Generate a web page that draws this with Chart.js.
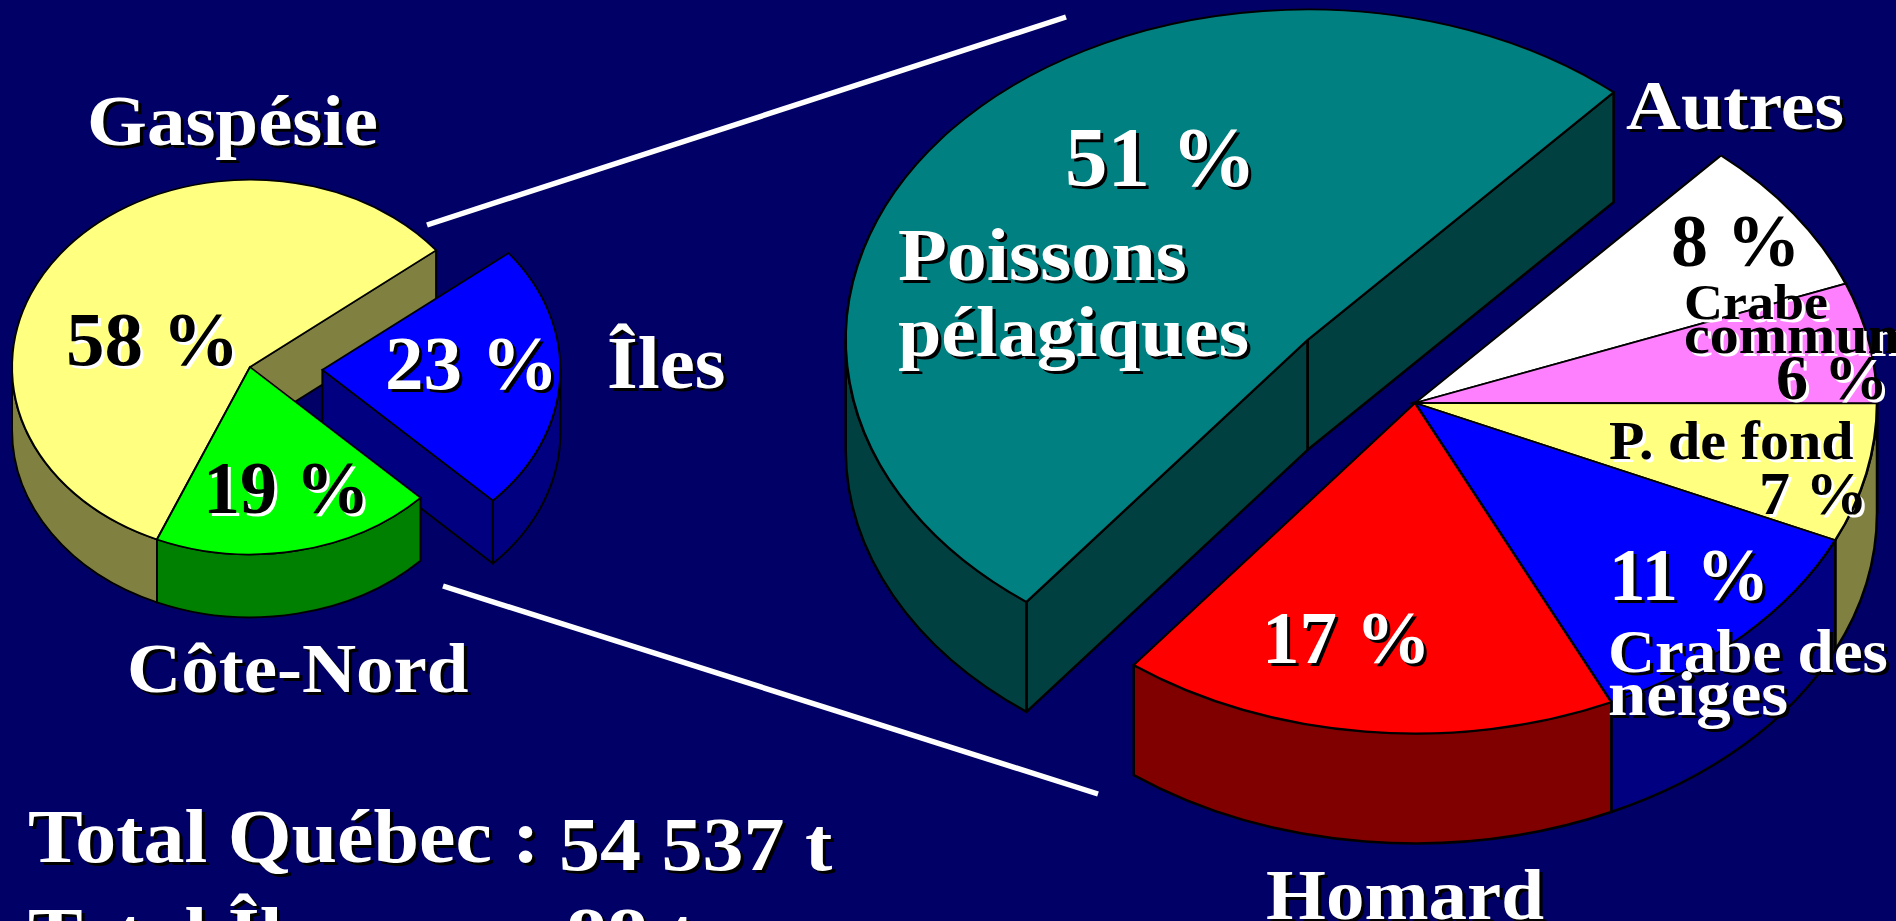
<!DOCTYPE html>
<html><head><meta charset="utf-8">
<script src="https://cdn.jsdelivr.net/npm/chart.js@4"></script>
<style>
html,body{margin:0;padding:0;width:1896px;height:921px;overflow:hidden;background:#000066}
canvas{position:absolute}
svg{position:absolute;left:0;top:0}
.t{position:absolute;font-family:"Liberation Serif",serif;font-weight:bold;line-height:1;white-space:nowrap;transform-origin:left top}
.w{color:#fff;text-shadow:3px 3px 0 #000}
.k{color:#000;text-shadow:3px 3px 0 #fff}
</style></head><body>
<canvas id="left" width="700" height="700" style="left:-100px;top:17px"></canvas>
<canvas id="right" width="1240" height="1240" style="left:795px;top:-217px"></canvas>
<svg width="1896" height="921"><line x1="427" y1="225" x2="1066" y2="17" stroke="#fff" stroke-width="5.5"/><line x1="443" y1="586" x2="1098" y2="794" stroke="#fff" stroke-width="5.5"/></svg>
<script>
const regionNames = ["Gaspésie", "Îles", "Côte-Nord"];
const regionValues = [57.9, 23.0, 19.1];
const regionColors = ["#FFFF80", "#0000FF", "#00FF00"];
const regionSides = ["#808040", "#000080", "#008000"];
const regionExplode = [0, 72.5, 0];

const speciesNames = ["Poissons pélagiques", "Autres", "Crabe commun", "P. de fond", "Crabe des neiges", "Homard"];
const speciesValues = [51.1, 7.6, 5.9, 6.8, 11.2, 17.4];
const speciesColors = ["#008080", "#FFFFFF", "#FF80FF", "#FFFF80", "#0000FF", "#FF0000"];
const speciesSides = ["#004040", "#808080", "#804080", "#808040", "#000080", "#800000"];
const speciesExplode = [139, 0, 0, 0, 0, 0];

// text, left, baseline, font size, style, horizontal widening
const W = 0.93;
const texts = [
 ["Gaspésie",87,145,77,"w",W],["Îles",607,389,79,"w",W],["Côte-Nord",127,692,75,"w",W],
 ["58 %",66,365,77,"k",1],["23 %",385,389,77,"w",1],["19 %",203,513,74,"k",1],
 ["Autres",1626,129,76,"w",W],["51 %",1065,186,85,"w",1],["Poissons",898,280,80,"w",W],["pélagiques",898,357,78,"w",W],
 ["8 %",1671,266,74,"k",1],["Crabe",1684,319,54,"k",W],["commun",1684,354,58,"k",W],["6 %",1776,400,64,"k",1],
 ["P. de fond",1609,460,58,"k",W],["7 %",1759,514,62,"k",1],["11 %",1609,600,73,"w",1],
 ["Crabe des",1608,673,65,"w",W],["neiges",1608,716,69,"w",W],["17 %",1262,663,75,"w",1],["Homard",1266,919,77,"w",W],
 ["Total Québec :",28,862,82,"w",W],["54 537 t",559,870,82,"w",W],["Total Îles",28,960,82,"w",W],[":",535,960,82,"w",W],["88 t",566,960,82,"w",W]
];
for (const [s,x,b,size,cls,f] of texts){
  const d=document.createElement('div');d.className='t '+cls;d.textContent=s;
  const fs=size*f;
  d.style.left=x+'px';d.style.fontSize=fs+'px';d.style.top=(b-fs*0.8375)+'px';
  d.style.transform='scaleX('+(1/f)+')';
  document.body.appendChild(d);
}
const extrude = {
  id:'extrude',
  beforeDatasetsDraw(chart,args,o){
    const ctx=chart.ctx,k=o.k,depth=o.depth;
    const arcs=chart.getDatasetMeta(0).data;
    const cy0=(chart.chartArea.top+chart.chartArea.bottom)/2;
    ctx.save();
    ctx.lineWidth=o.line;ctx.strokeStyle='#000';ctx.lineJoin='round';
    arcs.forEach((a,i)=>{
      const {x,startAngle:s,endAngle:e,outerRadius:r}=a.getProps(['x','startAngle','endAngle','outerRadius'],true);
      const mid=(s+e)/2,dist=o.explode[i];
      const cx=x+Math.cos(mid)*dist,cy=cy0+Math.sin(mid)*dist*k;
      ctx.fillStyle=o.sides[i];
      const radial=ang=>{
        const px=cx+r*Math.cos(ang),py=cy+r*k*Math.sin(ang);
        ctx.beginPath();ctx.moveTo(cx,cy);ctx.lineTo(px,py);ctx.lineTo(px,py+depth);ctx.lineTo(cx,cy+depth);ctx.closePath();ctx.fill();ctx.stroke();
      };
      if(Math.cos(s)<0)radial(s);
      if(Math.cos(e)>0)radial(e);
      for(let n=-1;n<3;n++){
        const lo=Math.max(s,2*Math.PI*n),hi=Math.min(e,2*Math.PI*n+Math.PI);
        if(hi<=lo)continue;
        ctx.beginPath();
        ctx.ellipse(cx,cy,r,r*k,0,lo,hi);
        ctx.lineTo(cx+r*Math.cos(hi),cy+r*k*Math.sin(hi)+depth);
        ctx.ellipse(cx,cy+depth,r,r*k,0,hi,lo,true);
        ctx.closePath();ctx.fill();ctx.stroke();
      }
    });
    ctx.restore();
    arcs.forEach((a,i)=>{
      const {startAngle:s,endAngle:e}=a.getProps(['startAngle','endAngle'],true);
      const mid=(s+e)/2,dist=o.explode[i];
      ctx.save();
      ctx.translate(0,cy0);ctx.scale(1,k);ctx.translate(0,-cy0);
      ctx.translate(Math.cos(mid)*dist,Math.sin(mid)*dist);
      a.draw(ctx);
      ctx.restore();
    });
    return false;
  }
};
function pie(id,names,values,colors,sides,explode,rotation,radius,k,depth,line){
  new Chart(document.getElementById(id),{
    type:'pie',
    data:{labels:names,datasets:[{data:values,backgroundColor:colors,borderColor:'#000',borderWidth:line,hoverOffset:0,radius:radius,borderJoinStyle:'miter'}]},
    options:{responsive:false,animation:false,devicePixelRatio:1,rotation:rotation,events:[],layout:{padding:0},
      plugins:{legend:{display:false},tooltip:{enabled:false},extrude:{k,depth,sides,line,explode}}},
    plugins:[extrude]
  });
}
pie('left',regionNames,regionValues,regionColors,regionSides,regionExplode,203,238,0.787,63,2);
pie('right',speciesNames,speciesValues,speciesColors,speciesSides,speciesExplode,217.5,462,0.715,110,2.5);
</script></body></html>
